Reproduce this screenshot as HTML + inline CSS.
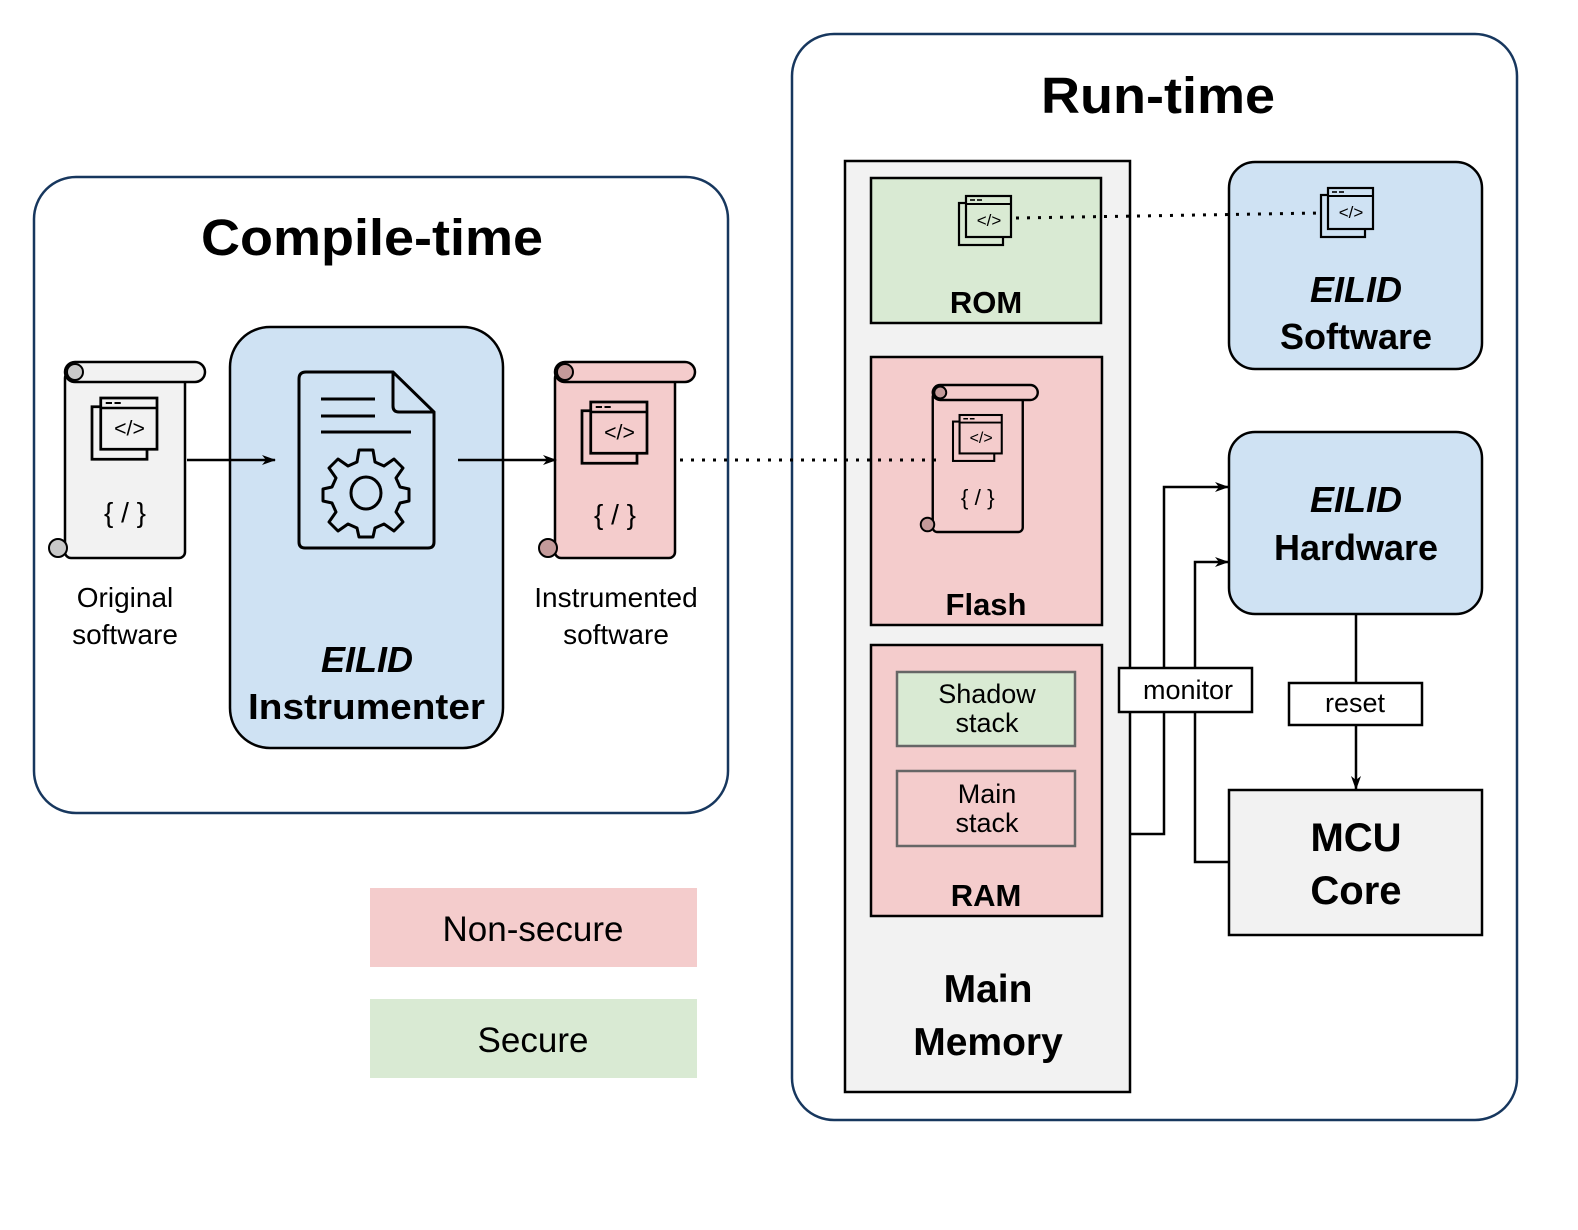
<!DOCTYPE html>
<html><head><meta charset="utf-8"><style>html,body{margin:0;padding:0;background:#fff}svg{display:block}text{font-family:"Liberation Sans",Arial,sans-serif}</style></head>
<body>
<svg width="1578" height="1230" viewBox="0 0 1578 1230" xmlns="http://www.w3.org/2000/svg">
<defs>
<marker id="ar" markerWidth="14" markerHeight="10" refX="13" refY="5" orient="auto" markerUnits="userSpaceOnUse">
<path d="M0,0 L14,5 L0,10 L4,5 Z" fill="#000"/></marker>
<g id="ico">
<rect x="0" y="7" width="44" height="42" fill="none" stroke="#000" stroke-width="2.2"/>
<rect x="7" y="0" width="45" height="41" fill="inherit" stroke="#000" stroke-width="2.2"/>
<line x1="7" y1="8" x2="52" y2="8" stroke="#000" stroke-width="2"/>
<line x1="11" y1="4" x2="16" y2="4" stroke="#000" stroke-width="1.6"/>
<line x1="18" y1="4" x2="23" y2="4" stroke="#000" stroke-width="1.6"/>
<text x="30" y="30" font-size="17" text-anchor="middle" fill="#000">&lt;/&gt;</text>
</g>
</defs>

<rect x="34" y="177" width="694" height="636" rx="42" fill="#fff" stroke="#17375e" stroke-width="2.5"/>
<text x="201" y="255" font-size="51" font-weight="bold" textLength="342" lengthAdjust="spacingAndGlyphs">Compile-time</text>

<rect x="230" y="327" width="273" height="421" rx="40" fill="#cfe2f3" stroke="#000" stroke-width="2.5"/>
<path d="M306,372 L393,372 L434,412 L434,542 Q434,548 428,548 L305,548 Q299,548 299,542 L299,379 Q299,372 306,372 Z" fill="none" stroke="#000" stroke-width="3"/>
<path d="M393,372 L393,406 Q393,412 399,412 L434,412" fill="none" stroke="#000" stroke-width="3"/>
<line x1="321" y1="399" x2="375" y2="399" stroke="#000" stroke-width="3"/>
<line x1="321" y1="416" x2="375" y2="416" stroke="#000" stroke-width="3"/>
<line x1="321" y1="432" x2="411" y2="432" stroke="#000" stroke-width="3"/>
<g transform="translate(366,492)" fill="none" stroke="#000" stroke-width="3">
<path d="M-7,-42 L7,-42 L9,-30 L18,-26 L28,-33 L37,-24 L30,-14 L34,-5 L43,-3 L43,9 L34,11 L30,20 L37,30 L28,39 L18,32 L9,36 L7,45 L-7,45 L-9,36 L-18,32 L-28,39 L-37,30 L-30,20 L-34,11 L-43,9 L-43,-3 L-34,-5 L-30,-14 L-37,-24 L-28,-33 L-18,-26 L-9,-30 Z" stroke-linejoin="round"/>
<ellipse cx="0" cy="1" rx="15" ry="16"/>
</g>
<text x="367" y="672" font-size="36" font-weight="bold" font-style="italic" text-anchor="middle">EILID</text>
<text x="248" y="719" font-size="36" font-weight="bold" textLength="237" lengthAdjust="spacingAndGlyphs">Instrumenter</text>

<g transform="translate(48,362)">
<rect x="17" y="10" width="120" height="186" rx="6" fill="#f2f2f2" stroke="#000" stroke-width="2.5"/>
<rect x="17" y="0" width="140" height="20" rx="10" fill="#f2f2f2" stroke="#000" stroke-width="2.5"/>
<circle cx="27" cy="10" r="8" fill="#c8c8c8" stroke="#000" stroke-width="2"/>
<circle cx="10" cy="186" r="9" fill="#c8c8c8" stroke="#000" stroke-width="2"/>
<g transform="translate(44,36) scale(1.25)" fill="#f2f2f2"><use href="#ico"/></g>
<text x="77" y="160" font-size="28" text-anchor="middle">{ / }</text>
</g>
<g transform="translate(538,362)">
<rect x="17" y="10" width="120" height="186" rx="6" fill="#f4cccc" stroke="#000" stroke-width="2.5"/>
<rect x="17" y="0" width="140" height="20" rx="10" fill="#f4cccc" stroke="#000" stroke-width="2.5"/>
<circle cx="27" cy="10" r="8" fill="#c49a9a" stroke="#000" stroke-width="2"/>
<circle cx="10" cy="186" r="9" fill="#c49a9a" stroke="#000" stroke-width="2"/>
<g transform="translate(44,40) scale(1.25)" fill="#f4cccc"><use href="#ico"/></g>
<text x="77" y="162" font-size="28" text-anchor="middle">{ / }</text>
</g>
<text x="125" y="607" font-size="28" text-anchor="middle">Original</text>
<text x="125" y="644" font-size="28" text-anchor="middle">software</text>
<text x="616" y="607" font-size="28" text-anchor="middle">Instrumented</text>
<text x="616" y="644" font-size="28" text-anchor="middle">software</text>
<line x1="187" y1="460" x2="275" y2="460" stroke="#000" stroke-width="2.5" marker-end="url(#ar)"/>
<line x1="458" y1="460" x2="556" y2="460" stroke="#000" stroke-width="2.5" marker-end="url(#ar)"/>

<rect x="370" y="888" width="327" height="79" fill="#f4cccc"/>
<text x="533" y="941" font-size="35" text-anchor="middle">Non-secure</text>
<rect x="370" y="999" width="327" height="79" fill="#d9ead3"/>
<text x="533" y="1052" font-size="35" text-anchor="middle">Secure</text>

<rect x="792" y="34" width="725" height="1086" rx="42" fill="#fff" stroke="#17375e" stroke-width="2.5"/>
<text x="1041" y="113" font-size="51" font-weight="bold" textLength="234" lengthAdjust="spacingAndGlyphs">Run-time</text>

<rect x="845" y="161" width="285" height="931" fill="#f2f2f2" stroke="#000" stroke-width="2.5"/>
<rect x="871" y="178" width="230" height="145" fill="#d9ead3" stroke="#000" stroke-width="2.5"/>
<text x="986" y="313" font-size="31" font-weight="bold" text-anchor="middle">ROM</text>
<rect x="871" y="357" width="231" height="268" fill="#f4cccc" stroke="#000" stroke-width="2.5"/>
<text x="986" y="615" font-size="31" font-weight="bold" text-anchor="middle">Flash</text>
<rect x="871" y="645" width="231" height="271" fill="#f4cccc" stroke="#000" stroke-width="2.5"/>
<text x="986" y="906" font-size="31" font-weight="bold" text-anchor="middle">RAM</text>
<rect x="897" y="672" width="178" height="74" fill="#d9ead3" stroke="#666" stroke-width="2.5"/>
<text x="987" y="703" font-size="27" text-anchor="middle">Shadow</text>
<text x="987" y="732" font-size="27" text-anchor="middle">stack</text>
<rect x="897" y="771" width="178" height="75" fill="#f4cccc" stroke="#666" stroke-width="2.5"/>
<text x="987" y="803" font-size="27" text-anchor="middle">Main</text>
<text x="987" y="832" font-size="27" text-anchor="middle">stack</text>
<text x="988" y="1002" font-size="39" font-weight="bold" text-anchor="middle">Main</text>
<text x="988" y="1055" font-size="39" font-weight="bold" text-anchor="middle">Memory</text>

<g transform="translate(959,196)" fill="#d9ead3"><use href="#ico"/></g>
<g transform="translate(920,385) scale(0.75)">
<rect x="17" y="10" width="120" height="186" rx="6" fill="#f4cccc" stroke="#000" stroke-width="3.2"/>
<rect x="17" y="0" width="140" height="20" rx="10" fill="#f4cccc" stroke="#000" stroke-width="3.2"/>
<circle cx="27" cy="10" r="8" fill="#c49a9a" stroke="#000" stroke-width="2.6"/>
<circle cx="10" cy="186" r="9" fill="#c49a9a" stroke="#000" stroke-width="2.6"/>
<g transform="translate(44,40) scale(1.25)" fill="#f4cccc"><use href="#ico"/></g>
<text x="77" y="160" font-size="30" text-anchor="middle">{ / }</text>
</g>

<rect x="1229" y="162" width="253" height="207" rx="26" fill="#cfe2f3" stroke="#000" stroke-width="2.5"/>
<g transform="translate(1321,188)" fill="#cfe2f3"><use href="#ico"/></g>
<text x="1356" y="302" font-size="36" font-weight="bold" font-style="italic" text-anchor="middle">EILID</text>
<text x="1356" y="349" font-size="36" font-weight="bold" text-anchor="middle">Software</text>

<rect x="1229" y="432" width="253" height="182" rx="26" fill="#cfe2f3" stroke="#000" stroke-width="2.5"/>
<text x="1356" y="512" font-size="36" font-weight="bold" font-style="italic" text-anchor="middle">EILID</text>
<text x="1356" y="560" font-size="36" font-weight="bold" text-anchor="middle">Hardware</text>

<rect x="1229" y="790" width="253" height="145" fill="#f2f2f2" stroke="#000" stroke-width="2.5"/>
<text x="1356" y="851" font-size="40" font-weight="bold" text-anchor="middle">MCU</text>
<text x="1356" y="904" font-size="40" font-weight="bold" text-anchor="middle">Core</text>

<line x1="1016" y1="218" x2="1320" y2="213" stroke="#000" stroke-width="3" stroke-dasharray="3,8"/>
<line x1="680" y1="460" x2="938" y2="460" stroke="#000" stroke-width="3" stroke-dasharray="3,8"/>

<polyline points="1130,834 1164,834 1164,487 1228,487" fill="none" stroke="#000" stroke-width="2.5" marker-end="url(#ar)"/>
<polyline points="1229,862 1195,862 1195,562 1228,562" fill="none" stroke="#000" stroke-width="2.5" marker-end="url(#ar)"/>
<rect x="1119" y="668" width="133" height="44" fill="#fff" stroke="#000" stroke-width="2.5"/>
<text x="1188" y="699" font-size="27" text-anchor="middle">monitor</text>
<line x1="1356" y1="614" x2="1356" y2="789" stroke="#000" stroke-width="2.5" marker-end="url(#ar)"/>
<rect x="1289" y="683" width="133" height="42" fill="#fff" stroke="#000" stroke-width="2.5"/>
<text x="1355" y="712" font-size="27" text-anchor="middle">reset</text>
</svg>
</body></html>
